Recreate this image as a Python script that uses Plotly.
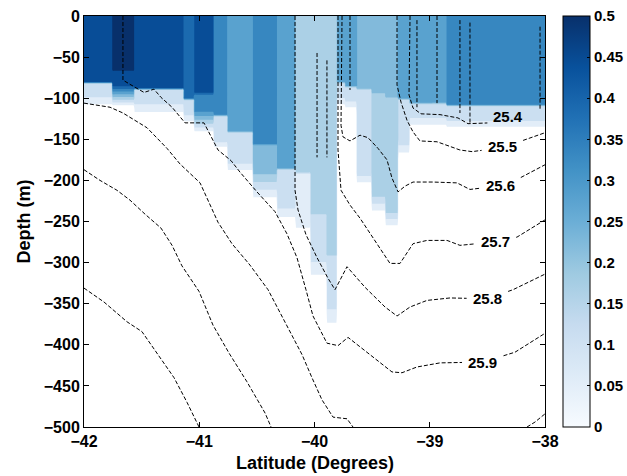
import numpy as np
import plotly.graph_objects as go

# ---------------- data ----------------
# Colour-filled field (0 .. 0.5), described per latitude strip:
# value near the surface, depth where it ends, value of the lower layer,
# depth where that lower layer ends, depth where the field has faded to 0.
strip_edges = [-42.0, -41.757, -41.566, -41.132, -41.046, -40.872, -40.759, -40.534,
               -40.325, -40.169, -40.039, -39.892, -39.805, -39.735, -39.631, -39.501,
               -39.388, -39.275, -39.171, -38.972, -38.850, -38.0]
strip_val_top = [0.42, 0.48, 0.42, 0.36, 0.42, 0.31, 0.26, 0.33, 0.26, 0.16, 0.17,
                 0.18, 0.26, 0.26, 0.25, 0.25, 0.25, 0.27, 0.27, 0.26, 0.33]
strip_depth_top = [80, 66, 88, 100, 94, 120, 140, 155, 185, 190, 240,
                   290, 80, 85, 88, 92, 98, 100, 105, 105, 108]
strip_val_mid = [0.14, 0.42, 0.14, 0.14, 0.31, 0.13, 0.13, 0.24, 0.12, 0.08, 0.13,
                 0.12, 0.13, 0.13, 0.13, 0.18, 0.18, 0.14, 0.14, 0.14, 0.14]
strip_depth_mid = [92, 84, 100, 115, 116, 150, 175, 185, 230, 250, 290,
                   350, 95, 100, 190, 215, 235, 150, 118, 118, 122]
strip_depth_zero = [116, 112, 126, 135, 145, 165, 195, 230, 255, 270, 330,
                    390, 115, 118, 210, 245, 262, 175, 140, 140, 142]

# Isopycnals (sigma-theta): latitude and depth (m) along each contour
iso_254_lat = [-39.171, -39.180, -39.145, -39.076, -38.911, -38.755, -38.668, -38.477, -38.347, -38.243, -38.208, -38.217]
iso_254_dep = [0, -96, -112, -119, -120, -124, -131, -130, -124, -116, -107, 0]
iso_255_lat = [-39.284, -39.284, -39.249, -39.197, -39.145, -39.085, -38.937, -38.738, -38.633, -38.416, -38.260, -38.069, -38.0]
iso_255_dep = [0, -84, -105, -127, -141, -152, -153, -163, -165, -161, -155, -145, -142]
iso_256_lat = [-39.761, -39.770, -39.753, -39.692, -39.605, -39.536, -39.449, -39.371, -39.328, -39.275, -39.215, -39.145, -38.972, -38.764, -38.651, -38.416, -38.217, -38.0]
iso_256_dep = [0, -133, -147, -152, -145, -148, -161, -175, -197, -214, -207, -202, -202, -203, -211, -207, -197, -181]
iso_257_lat = [-39.796, -39.796, -39.770, -39.692, -39.605, -39.501, -39.414, -39.345, -39.258, -39.145, -39.024, -38.850, -38.738, -38.451, -38.243, -38.0]
iso_257_dep = [0, -163, -212, -230, -246, -268, -287, -301, -301, -277, -273, -273, -279, -275, -269, -248]
iso_258_lat = [-40.169, -40.169, -40.143, -40.074, -39.978, -39.883, -39.822, -39.779, -39.718, -39.562, -39.388, -39.284, -39.171, -39.024, -38.824, -38.503, -38.278, -38.0]
iso_258_dep = [0, -212, -236, -266, -294, -319, -333, -321, -305, -330, -354, -365, -354, -346, -343, -344, -333, -314]
iso_259_lat = [-41.662, -41.662, -41.566, -41.479, -41.393, -41.332, -41.236, -41.123, -40.959, -40.898, -40.837, -40.724, -40.646, -40.499, -40.343, -40.239, -40.152, -40.074, -40.013, -39.892, -39.796, -39.709, -39.570, -39.328, -39.241, -39.111, -38.911, -38.538, -38.260, -38.0]
iso_259_dep = [0, -78, -86, -93, -89, -99, -111, -130, -130, -147, -163, -176, -190, -214, -238, -265, -294, -333, -365, -398, -401, -391, -406, -433, -434, -427, -422, -421, -409, -386]
iso_260_lat = [-42.0, -41.774, -41.662, -41.453, -41.280, -41.167, -40.993, -40.915, -40.837, -40.716, -40.560, -40.403, -40.299, -40.195, -40.108, -40.022, -39.935, -39.839, -39.718, -39.666]
iso_260_dep = [-106, -111, -118, -136, -161, -180, -203, -228, -251, -277, -303, -333, -361, -388, -412, -440, -467, -488, -490, -500]
iso_260b_lat = [-38.156, -38.087, -38.0]
iso_260b_dep = [-500, -494, -484]
iso_261_lat = [-42.0, -41.861, -41.714, -41.601, -41.471, -41.332, -41.236, -41.150, -41.002, -40.881, -40.742, -40.586, -40.429, -40.377]
iso_261_dep = [-187, -200, -212, -224, -241, -258, -279, -304, -335, -376, -410, -445, -483, -500]
iso_262_lat = [-42.0, -41.826, -41.627, -41.497, -41.358, -41.219, -41.106, -41.002]
iso_262_dep = [-331, -348, -372, -384, -412, -440, -470, -500]

# short vertical contour pieces inside the mixed layer: latitude, top, bottom (m)
frag_lat = [-39.978, -39.892, -39.692, -39.111, -38.937, -38.738, -38.651, -38.043]
frag_top = [-45, -54, 0, -5, 0, -5, -8, -13]
frag_bot = [-172, -172, -90, -111, -106, -118, -130, -114]

# contour labels
label_text = ["25.4", "25.5", "25.6", "25.7", "25.8", "25.9"]
label_lat = [-38.32, -38.37, -38.39, -38.43, -38.50, -38.54]

# axes ticks
x_ticks = [-42, -41, -40, -39, -38]
y_ticks = [0, -50, -100, -150, -200, -250, -300, -350, -400, -450, -500]
cb_ticks = [0, 0.05, 0.1, 0.15, 0.2, 0.25, 0.3, 0.35, 0.4, 0.45, 0.5]

# ---------------- build the field table ----------------
blues = ['rgb(247,251,255)', 'rgb(222,235,247)', 'rgb(198,219,239)', 'rgb(158,202,225)',
         'rgb(107,174,214)', 'rgb(66,146,198)', 'rgb(33,113,181)', 'rgb(8,81,156)', 'rgb(8,48,107)']
cb_scale = [[i / (len(blues) - 1), c] for i, c in enumerate(blues)]
fill_scale = [[0, 'rgb(255,255,255)']] + cb_scale[1:]

lat_grid = np.linspace(-42, -38, 401)
dep_grid = np.linspace(0, 500, 201)
sidx = np.clip(np.searchsorted(strip_edges, lat_grid, side='right') - 1, 0, len(strip_val_top) - 1)
z = np.zeros((len(dep_grid), len(lat_grid)))
for i, k in enumerate(sidx):
    kd = [0, strip_depth_top[k], strip_depth_top[k] + 2, strip_depth_mid[k], strip_depth_zero[k], 500]
    kv = [strip_val_top[k], strip_val_top[k], strip_val_mid[k], strip_val_mid[k], 0, 0]
    z[:, i] = np.interp(dep_grid, kd, kv)
z = np.round(z, 3)

fig = go.Figure()
fig.add_trace(go.Contour(
    x=lat_grid, y=-dep_grid, z=z, colorscale=fill_scale, showscale=False,
    contours=dict(start=0.05, end=0.45, size=0.05, coloring='fill', showlines=False),
    line=dict(width=0), hoverinfo='skip'))

# ---------------- isopycnal lines ----------------
def point_at(lats, deps, x0):
    for a in range(len(lats) - 1):
        l0, l1 = lats[a], lats[a + 1]
        if (l0 - x0) * (l1 - x0) <= 0 and l0 != l1:
            t = (x0 - l0) / (l1 - l0)
            return deps[a] + t * (deps[a + 1] - deps[a])
    return None


def with_gap(lats, deps, lo, hi):
    ox, oy = [], []
    inside = lambda v: lo < v < hi
    for a in range(len(lats)):
        if a > 0:
            l0, l1, d0, d1 = lats[a - 1], lats[a], deps[a - 1], deps[a]
            if inside(l0) != inside(l1):
                b = lo if (l0 <= lo < l1 or l1 <= lo < l0) else hi
                t = (b - l0) / (l1 - l0)
                ox.append(b)
                oy.append(d0 + t * (d1 - d0))
                if not inside(l0):
                    ox.append(None)
                    oy.append(None)
        if not inside(lats[a]):
            ox.append(lats[a])
            oy.append(deps[a])
    return ox, oy


line_style = dict(color='black', width=1, dash='4px,2px')
labelled = [(iso_254_lat, iso_254_dep), (iso_255_lat, iso_255_dep), (iso_256_lat, iso_256_dep),
            (iso_257_lat, iso_257_dep), (iso_258_lat, iso_258_dep), (iso_259_lat, iso_259_dep)]
annotations = []
hw = 0.18
for (la, de), txt, lx in zip(labelled, label_text, label_lat):
    gx, gy = with_gap(la, de, lx - hw, lx + hw)
    fig.add_trace(go.Scatter(x=gx, y=gy, mode='lines', line=line_style,
                             hoverinfo='skip', showlegend=False))
    ly = point_at(la, de, lx)
    annotations.append(dict(x=lx, y=ly, xref='x', yref='y', text=txt, showarrow=False,
                            font=dict(family='Liberation Sans, Arial', size=15, color='black', weight='bold')))

for la, de in [(iso_260_lat, iso_260_dep), (iso_260b_lat, iso_260b_dep),
               (iso_261_lat, iso_261_dep), (iso_262_lat, iso_262_dep)]:
    fig.add_trace(go.Scatter(x=la, y=de, mode='lines', line=line_style,
                             hoverinfo='skip', showlegend=False))

fx, fy = [], []
for la, t, b in zip(frag_lat, frag_top, frag_bot):
    fx += [la, la, None]
    fy += [t, b, None]
fig.add_trace(go.Scatter(x=fx, y=fy, mode='lines', line=line_style,
                         hoverinfo='skip', showlegend=False))

# continuous colour bar
tick_font = dict(family='Liberation Sans, Arial', size=16, color='black', weight='bold')
cb_font = dict(family='Liberation Sans, Arial', size=15, color='black', weight='bold')
fig.add_trace(go.Scatter(
    x=[lat_grid[0]], y=[-dep_grid[0]], mode='markers', hoverinfo='skip', showlegend=False,
    marker=dict(size=0.1, opacity=0, color=[0], colorscale=cb_scale, cmin=0, cmax=0.5,
                showscale=True,
                colorbar=dict(x=(563 - 84) / 461, xanchor='left', xpad=0, ypad=0,
                              y=0.5, yanchor='middle', len=1, lenmode='fraction',
                              thickness=27, outlinewidth=1, outlinecolor='black',
                              tickvals=cb_ticks, ticktext=[f"{v:g}" for v in cb_ticks],
                              ticks='inside', ticklen=3, tickcolor='black',
                              ticklabeloverflow='allow', tickfont=cb_font))))

title_font = dict(family='Liberation Sans, Arial', size=18, color='black', weight='bold')
annotations.append(dict(x=(23 - 84) / 461, y=0.5, xref='paper', yref='paper', text='Depth (m)',
                        xanchor='center', yanchor='middle',
                        textangle=-90, showarrow=False, font=title_font))
annotations.append(dict(x=0.5, y=(427 - 463) / 411, xref='paper', yref='paper',
                        xanchor='center', yanchor='middle',
                        text='Latitude (Degrees)', showarrow=False, font=title_font))

axis_common = dict(showline=True, linecolor='black', linewidth=1, mirror='ticks',
                   ticks='inside', ticklen=5, tickcolor='black', showgrid=False,
                   zeroline=False, tickfont=tick_font, automargin=False,
                   ticklabeloverflow='allow')
fig.update_layout(
    width=627, height=476, margin=dict(l=84, r=82, t=16, b=49, autoexpand=False),
    paper_bgcolor='white', plot_bgcolor='white', showlegend=False,
    xaxis=dict(range=[-42, -38], tickvals=x_ticks, **axis_common),
    yaxis=dict(range=[-500, 0], tickvals=y_ticks, **axis_common),
    annotations=annotations)

# remove the browser's default page margin so the figure sits at the window origin
fig.write_html("out.html", config={'displayModeBar': False},
               post_script="document.body.style.margin='0';document.body.style.overflow='hidden';")
